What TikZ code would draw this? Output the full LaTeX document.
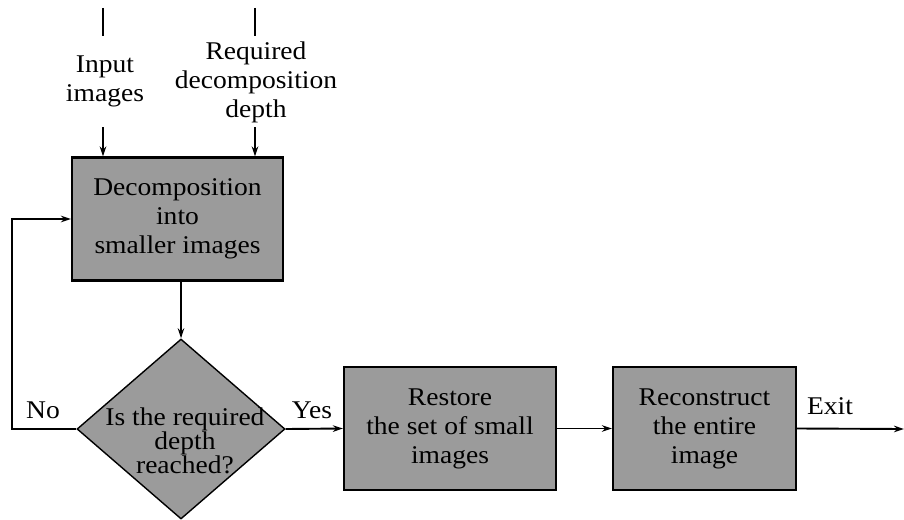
\documentclass[tikz,border=0pt]{standalone}
\usepackage{fontspec}
\setmainfont{Liberation Serif}[FakeStretch=1.08]
\usetikzlibrary{shapes.geometric,arrows.meta}
\definecolor{boxgray}{RGB}{155,155,155}
\begin{document}
\begin{tikzpicture}[x=1pt,y=-1pt,
  every node/.style={font=\fontsize{25.5}{29}\selectfont, inner sep=0pt},
  procbox/.style={draw, line width=2.2pt, fill=boxgray, minimum width=#1, minimum height=123pt, align=center},
  decbox/.style={draw, line width=1.4pt, fill=boxgray, diamond, minimum width=208pt, minimum height=180pt, inner sep=0pt},
  lbl/.style={align=center},
  flow/.style={line width=1.9pt, -{Stealth[length=10pt,width=6.5pt]}},
  plain/.style={line width=1.9pt}
]
\useasboundingbox (0,0) rectangle (904,519);
% nodes
\node[procbox=211pt] (dec) at (177.5,219) {Decomposition\\into\\smaller images};
\node[decbox] (q) at (181,429) {};
\node[lbl, font=\fontsize{25.5}{24}\selectfont] (qt) at (185,441) {Is the required\\depth\\reached?};
\node[procbox=212pt] (rest) at (450,428.5) {Restore\\the set of small\\images};
\node[procbox=183pt] (recon) at (704.5,428.5) {Reconstruct\\the entire\\image};
% labels
\node[lbl] (inlbl) at (105,81) {Input\\images};
\node[lbl] (deplbl) at (256,82) {Required\\decomposition\\depth};
\node (no) at (43,410) {No};
\node (yes) at (312,410) {Yes};
\node (exit) at (830,406) {Exit};
% coordinates
\coordinate (a1) at (103,8);
\coordinate (a2) at (103,36);
\coordinate (a3) at (103,127);
\coordinate (b1) at (255,8);
\coordinate (b2) at (255,36);
\coordinate (b3) at (255,127);
\coordinate (loopA) at (12,429);
\coordinate (exitend) at (904,429);
% connectors
\draw[plain] (a1) -- (a2);
\draw[plain] (b1) -- (b2);
\draw[flow] (a3) -- (a3 |- dec.north);
\draw[flow] (b3) -- (b3 |- dec.north);
\draw[flow] (dec.south -| q.north) -- (q.north);
\draw[flow] (q.west) -- (loopA) |- (dec.west);
\draw[flow] (q.east) -- (rest.west);
\draw[flow] (rest.east) -- (recon.west);
\draw[flow] (recon.east) -- (exitend);
\end{tikzpicture}
\end{document}
